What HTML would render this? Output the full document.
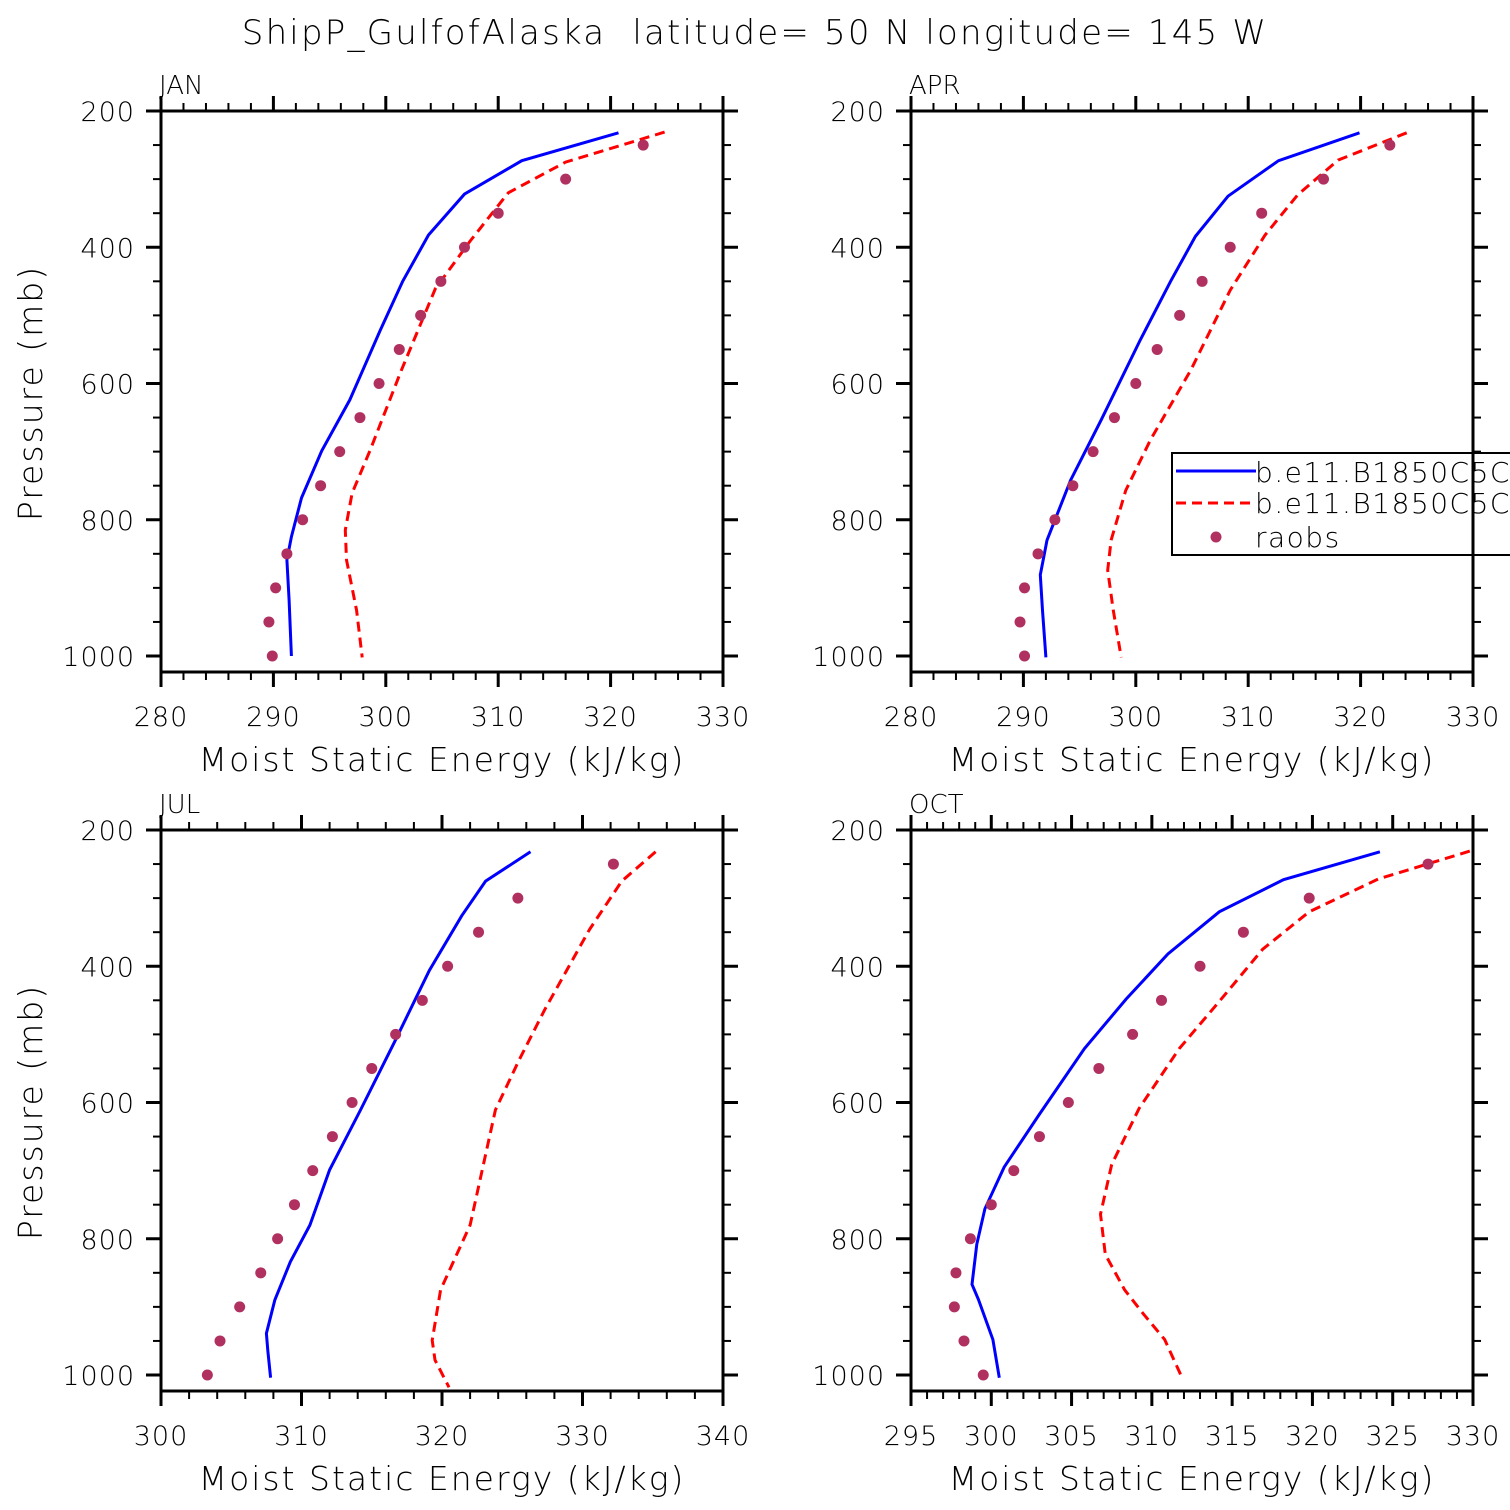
<!DOCTYPE html>
<html><head><meta charset="utf-8"><style>
html,body{margin:0;padding:0;background:#fff}
svg{display:block}
text{font-family:"DejaVu Sans","Liberation Sans",sans-serif;fill:#000;font-weight:300}
</style></head><body>
<svg id="c" width="1510" height="1510" viewBox="0 0 1510 1510">
<text x="755" y="44" font-size="34" text-anchor="middle" letter-spacing="2.2" xml:space="preserve" style="white-space:pre">ShipP_GulfofAlaska  latitude= 50 N longitude= 145 W</text>
</svg>
<script>
// JAN
const janBlueX=[320.7,312.1,307.0,303.8,301.5,299.5,296.8,294.3,292.5,291.6,291.2,291.4,291.6];
const janBlueP=[232,273,322,382,450,522,624,699,768,825,859,918,1000];
const janRedX=[324.8,316.0,310.9,307.5,304.4,301.4,298.6,297.0,296.4,296.5,297.4,297.9];
const janRedP=[231,275,320,391,461,580,698,761,815,859,933,1002];
const obsP=[250,300,350,400,450,500,550,600,650,700,750,800,850,900,950,1000];
const janObs=[322.9,316.0,310.0,307.0,304.9,303.1,301.2,299.4,297.7,295.9,294.2,292.6,291.2,290.2,289.6,289.9];
// APR
const aprBlueX=[319.9,312.7,308.2,305.3,303.1,300.4,296.9,294.2,292.1,291.5,291.7,292.0];
const aprBlueP=[232,273,325,384,450,536,654,742,830,881,933,1002];
const aprRedX=[324.1,318.0,314.4,311.5,308.4,304.9,301.3,299.1,297.8,297.5,298.0,298.7];
const aprRedP=[232,272,323,382,463,580,683,757,830,874,933,1002];
const aprObs=[322.6,316.7,311.2,308.4,305.9,303.9,301.9,300.0,298.1,296.2,294.4,292.8,291.3,290.1,289.7,290.1];
// JUL
const julBlueX=[326.3,323.1,321.4,319.1,316.7,314.2,312.0,310.6,309.2,308.1,307.5,307.6,307.8];
const julBlueP=[232,275,326,406,508,611,699,780,834,890,939,964,1004];
const julRedX=[335.2,332.8,330.5,327.3,325.5,323.8,322.0,319.9,319.3,319.5,320.5];
const julRedP=[232,275,346,464,537,611,780,875,949,978,1018];
const julObs=[332.2,325.4,322.6,320.4,318.6,316.7,315.0,313.6,312.2,310.8,309.5,308.3,307.1,305.6,304.2,303.3];
// OCT
const octBlueX=[324.2,318.2,314.2,311.0,308.4,305.8,303.0,300.8,299.6,299.1,298.8,299.2,300.1,300.5];
const octBlueP=[232,273,320,382,448,521,617,695,756,808,867,889,948,1004];
const octRedX=[329.8,324.1,319.8,316.9,314.4,311.7,309.2,307.5,306.8,307.1,308.3,309.5,310.8,311.8];
const octRedP=[231,272,320,375,446,521,609,691,764,823,875,911,948,1000];
const octObs=[327.2,319.8,315.7,313.0,310.6,308.8,306.7,304.8,303.0,301.4,300.0,298.7,297.8,297.7,298.3,299.5];

const NS="http://www.w3.org/2000/svg";
const svg=document.getElementById('c');
function mk(tag,attrs,parent){const e=document.createElementNS(NS,tag);for(const k in attrs)e.setAttribute(k,attrs[k]);(parent||svg).appendChild(e);return e;}

const panels=[
 {name:'jan',label:'JAN',x0:161,y0:111,xmin:280,xmax:330,xmaj:10,xmin_:2,bx:janBlueX,bp:janBlueP,rx:janRedX,rp:janRedP,ob:janObs},
 {name:'apr',label:'APR',x0:911,y0:111,xmin:280,xmax:330,xmaj:10,xmin_:2,bx:aprBlueX,bp:aprBlueP,rx:aprRedX,rp:aprRedP,ob:aprObs},
 {name:'jul',label:'JUL',x0:161,y0:830,xmin:300,xmax:340,xmaj:10,xmin_:2,bx:julBlueX,bp:julBlueP,rx:julRedX,rp:julRedP,ob:julObs},
 {name:'oct',label:'OCT',x0:911,y0:830,xmin:295,xmax:330,xmaj:5,xmin_:1,bx:octBlueX,bp:octBlueP,rx:octRedX,rp:octRedP,ob:octObs}
];
const W=562, H=561, ppm=545/800;

panels.forEach(p=>{
 const g=mk('g',{});
 
 
 const xs=v=>p.x0+(v-p.xmin)/(p.xmax-p.xmin)*W;
 const ys=v=>p.y0+(v-200)*ppm;
 const clipId='clip-'+p.name;
 const cp=mk('clipPath',{id:clipId},g);
 mk('rect',{x:p.x0,y:p.y0,width:W,height:H},cp);
 const pl=mk('g',{'clip-path':'url(#'+clipId+')'},g);
 const pts=(X,P)=>X.map((v,i)=>xs(v).toFixed(1)+','+ys(P[i]).toFixed(1)).join(' ');
 const b=mk('polyline',{points:pts(p.bx,p.bp),fill:'none',stroke:'#0000ff','stroke-width':3},pl);
 
 
 const r=mk('polyline',{points:pts(p.rx,p.rp),fill:'none',stroke:'#ff0000','stroke-width':3,'stroke-dasharray':'10,6'},pl);
 
 
 p.ob.forEach((v,i)=>{
  const c=mk('circle',{cx:xs(v),cy:ys(obsP[i]),r:5.5,fill:'#b03060'},pl);
  
  
 });
 const fr=mk('rect',{x:p.x0,y:p.y0,width:W,height:H,fill:'none',stroke:'#000','stroke-width':3},g);
 
 
 for(let pr=200;pr<=1000;pr+=50){
  const y=ys(pr), maj=pr%200===0, L=maj?15:8;
  mk('line',{x1:p.x0-L,y1:y,x2:p.x0,y2:y,stroke:'#000','stroke-width':maj?3:2},g);
  mk('line',{x1:p.x0+W,y1:y,x2:p.x0+W+L,y2:y,stroke:'#000','stroke-width':maj?3:2},g);
  if(maj){const t=mk('text',{x:p.x0-26,y:y+10,'font-size':27,'text-anchor':'end','letter-spacing':1},g);t.textContent=pr;
   }
 }
 for(let v=p.xmin;v<=p.xmax+1e-9;v+=p.xmin_){
  const x=xs(v), maj=Math.abs(v%p.xmaj)<1e-6, L=maj?15:8;
  mk('line',{x1:x,y1:p.y0+H,x2:x,y2:p.y0+H+L,stroke:'#000','stroke-width':maj?3:2},g);
  mk('line',{x1:x,y1:p.y0-L,x2:x,y2:p.y0,stroke:'#000','stroke-width':maj?3:2},g);
  if(maj){const t=mk('text',{x:x,y:p.y0+H+54,'font-size':27,'text-anchor':'middle','letter-spacing':1},g);t.textContent=v;
   }
 }
 const xt=mk('text',{x:p.x0+W/2,y:p.y0+H+99,'font-size':33,'text-anchor':'middle','letter-spacing':2},g);
 xt.textContent='Moist Static Energy (kJ/kg)';
 
 const lb=mk('text',{x:p.x0-2,y:p.y0-17,'font-size':26},g);
 lb.textContent=p.label;
 
 if(p.x0<500){
  const yt=mk('text',{x:0,y:0,'font-size':33,'text-anchor':'middle','letter-spacing':2,transform:'translate(42,'+(p.y0+282)+') rotate(-90)'},g);
  yt.textContent='Pressure (mb)';
  
 }
});
const lg=mk('g',{});


mk('rect',{x:1172,y:453,width:360,height:102,fill:'#fff',stroke:'#000','stroke-width':2},lg);
mk('line',{x1:1176,y1:471,x2:1256,y2:471,stroke:'#0000ff','stroke-width':3},lg);
mk('line',{x1:1176,y1:503,x2:1256,y2:503,stroke:'#ff0000','stroke-width':3,'stroke-dasharray':'10,6'},lg);
mk('circle',{cx:1216,cy:537,r:5.5,fill:'#b03060'},lg);
[['b.e11.B1850C5CN',482],['b.e11.B1850C5CN',513],['raobs',547]].forEach(a=>{
 const t=mk('text',{x:1255,y:a[1],'font-size':28,'letter-spacing':1.5},lg);t.textContent=a[0];
 
});
mk('line',{x1:1473,y1:440,x2:1473,y2:570,stroke:'#000','stroke-width':3},lg);
</script>
</body></html>
